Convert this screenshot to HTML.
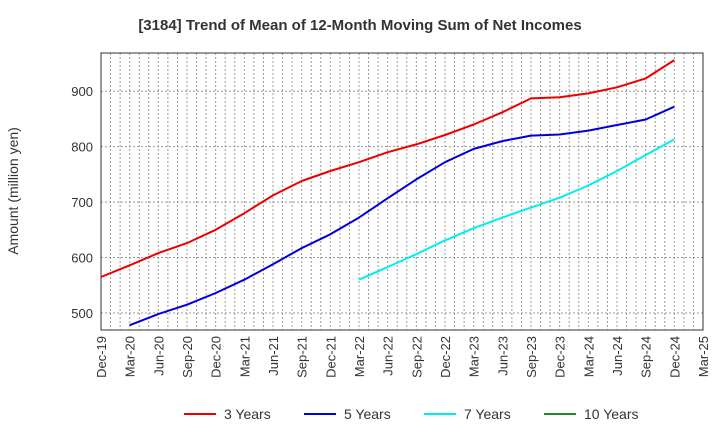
<!DOCTYPE html>
<html><head><meta charset="utf-8"><style>
body{margin:0;background:#fff;font-family:"Liberation Sans",Arial,sans-serif}
svg text{font-family:"Liberation Sans",Arial,sans-serif}
</style></head><body>
<svg id="chart" width="720" height="440" xmlns="http://www.w3.org/2000/svg">
<text x="360" y="30" text-anchor="middle" font-size="15" font-weight="bold" fill="#333">[3184]  Trend of Mean of 12-Month Moving Sum of Net Incomes</text>
<text transform="translate(18,191) rotate(-90)" text-anchor="middle" font-size="14" fill="#333">Amount (million yen)</text>
<g id="grid"></g><g id="axes"></g><g id="series"></g>
<g id="legend"></g>
</svg>
<script>
const xLabels=["Dec-19","Mar-20","Jun-20","Sep-20","Dec-20","Mar-21","Jun-21","Sep-21","Dec-21","Mar-22","Jun-22","Sep-22","Dec-22","Mar-23","Jun-23","Sep-23","Dec-23","Mar-24","Jun-24","Sep-24","Dec-24","Mar-25"];
const yTicks=[500,600,700,800,900];
const s3=[565,586,608,626,650,680,712,738,756,772,790,804,821,840,862,887,889,896,907,923,956];
const s5=[null,478,498,515,536,560,588,617,642,672,707,741,772,796,810,820,822,829,839,849,872];
const s7=[null,null,null,null,null,null,null,null,null,560,583,606,631,653,672,690,708,730,756,785,813];
const s10=[];
const NS="http://www.w3.org/2000/svg";
const L=101,R=703,T=53,B=330;
const xq=i=>L+i*(R-L)/21;
const y=v=>313-(v-500)*0.5545;
function mk(tag,at,parent){const e=document.createElementNS(NS,tag);for(const k in at)e.setAttribute(k,at[k]);document.getElementById(parent).appendChild(e);return e;}
for(let m=1;m<63;m++){const x=L+m*(R-L)/63;
const g=mk('line',{x1:x,x2:x,y1:T,y2:B,stroke:'#999','stroke-dasharray':'2,2','stroke-width':1},'grid');

}
yTicks.forEach(v=>{const g=mk('line',{x1:L,x2:R,y1:y(v),y2:y(v),stroke:'#999','stroke-dasharray':'2,2'},'grid');


const t=mk('text',{x:L-8,y:y(v)+5,'text-anchor':'end','font-size':13,fill:'#333'},'axes');t.textContent=v;

});
const fr=mk('rect',{x:L,y:T,width:R-L,height:B-T,fill:'none',stroke:'#333'},'axes');


xLabels.forEach((l,i)=>{const x=xq(i);const t=mk('text',{transform:`translate(${x+5},${B+6}) rotate(-90)`,'text-anchor':'end','font-size':13,fill:'#333'},'axes');t.textContent=l;

});
function line(arr,color,name){let d='';arr.forEach((v,i)=>{if(v==null)return;d+=(d?'L':'M')+xq(i).toFixed(1)+','+y(v).toFixed(1);});
if(!d)return;const p=mk('path',{d:d,fill:'none',stroke:color,'stroke-width':2,'stroke-linejoin':'round'},'series');

}
line(s3,'#ee0000','line-3-years');line(s5,'#0000dd','line-5-years');line(s7,'#00eeee','line-7-years');line(s10,'#228822','line-10-years');
const leg=[["3 Years","#ee0000",184],["5 Years","#0000dd",304],["7 Years","#00eeee",424],["10 Years","#228822",544]];
leg.forEach(([n,c,x])=>{const l=mk('line',{x1:x,x2:x+32,y1:414,y2:414,stroke:c,'stroke-width':2},'legend');


const t=mk('text',{x:x+40,y:419,'font-size':14,fill:'#333'},'legend');t.textContent=n;

});
</script>
</body></html>
